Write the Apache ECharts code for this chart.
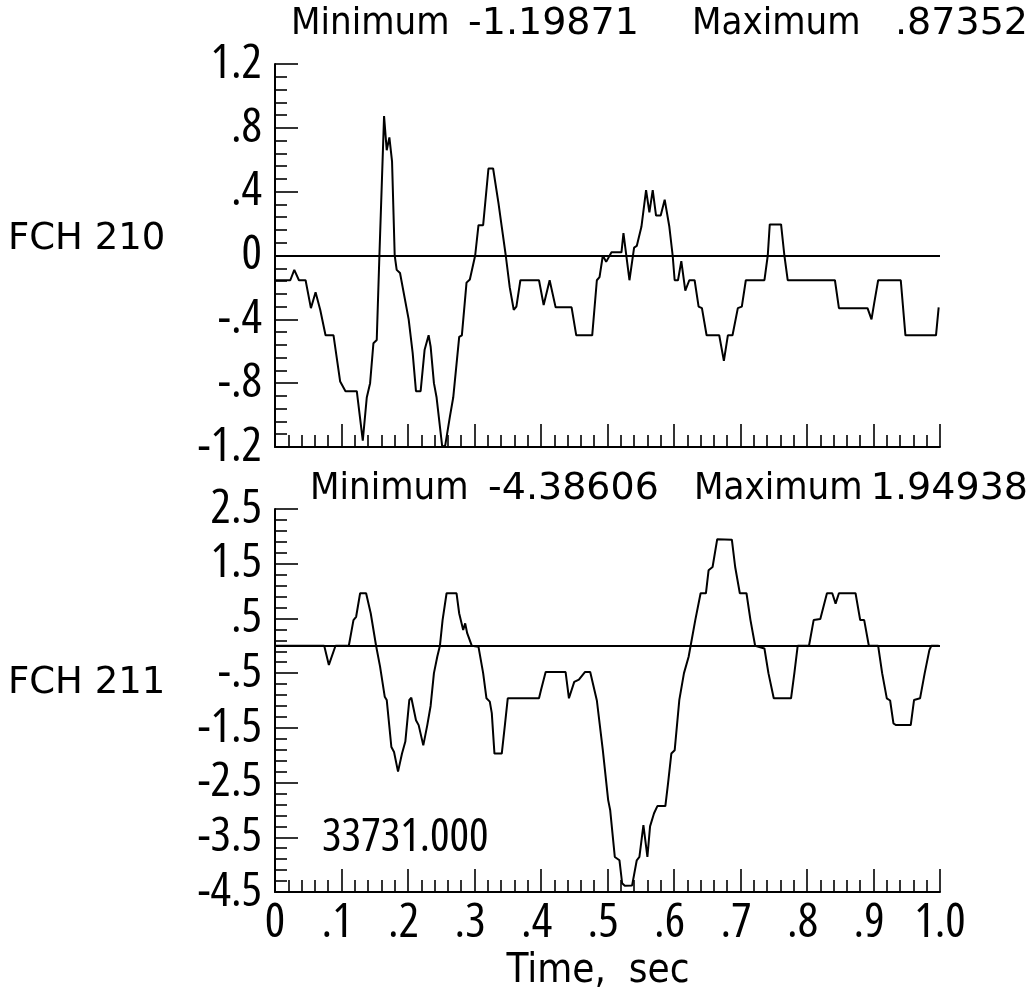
<!DOCTYPE html>
<html>
<head>
<meta charset="utf-8">
<script src="https://cdn.jsdelivr.net/npm/echarts@6/dist/echarts.min.js"></script>
<style>
html,body{margin:0;padding:0;background:#fff;}
#chart{width:1034px;height:999px;}
</style>
</head>
<body>
<div id="chart"></div>
<script>
// ---- Data ----
const xTickLabels = ['0', '.1', '.2', '.3', '.4', '.5', '.6', '.7', '.8', '.9', '1.0'];

const fch210Time = [0.000,0.023,0.029,0.036,0.046,0.054,0.061,0.068,0.076,0.088,0.098,0.106,0.123,0.132,0.138,0.143,0.148,0.153,0.157,0.164,0.168,0.172,0.176,0.180,0.183,0.188,0.201,0.207,0.212,0.219,0.225,0.231,0.234,0.239,0.243,0.2515,0.256,0.263,0.268,0.277,0.281,0.288,0.293,0.301,0.306,0.313,0.321,0.328,0.336,0.341,0.347,0.353,0.359,0.363,0.369,0.397,0.404,0.413,0.422,0.446,0.453,0.477,0.484,0.488,0.493,0.498,0.506,0.521,0.524,0.533,0.540,0.544,0.551,0.558,0.563,0.568,0.573,0.580,0.586,0.593,0.598,0.601,0.606,0.611,0.617,0.623,0.631,0.637,0.642,0.649,0.668,0.675,0.681,0.688,0.696,0.702,0.708,0.736,0.741,0.744,0.761,0.766,0.771,0.842,0.848,0.891,0.897,0.901,0.907,0.941,0.948,0.994,0.998];
const fch210Value = [-0.155,-0.155,-0.09,-0.155,-0.155,-0.33,-0.23,-0.34,-0.50,-0.50,-0.79,-0.85,-0.85,-1.16,-0.89,-0.80,-0.55,-0.53,0.00,0.87352,0.66,0.74,0.59,0.00,-0.09,-0.11,-0.40,-0.61,-0.85,-0.85,-0.59,-0.50,-0.57,-0.80,-0.89,-1.19871,-1.19,-1.01,-0.89,-0.51,-0.50,-0.17,-0.15,0.00,0.19,0.19,0.545,0.545,0.33,0.18,0.00,-0.20,-0.34,-0.32,-0.155,-0.155,-0.31,-0.155,-0.325,-0.325,-0.50,-0.50,-0.155,-0.135,0.00,-0.04,0.02,0.02,0.14,-0.155,0.05,0.06,0.18,0.41,0.27,0.41,0.25,0.25,0.35,0.18,0.00,-0.155,-0.155,-0.035,-0.22,-0.155,-0.155,-0.32,-0.33,-0.50,-0.50,-0.66,-0.50,-0.50,-0.33,-0.32,-0.155,-0.155,0.00,0.195,0.195,0.00,-0.155,-0.155,-0.33,-0.33,-0.40,-0.30,-0.155,-0.155,-0.50,-0.50,-0.325];

const fch211Time = [0.000,0.074,0.081,0.091,0.111,0.118,0.122,0.128,0.137,0.144,0.152,0.158,0.165,0.168,0.175,0.179,0.185,0.191,0.196,0.202,0.205,0.212,0.216,0.223,0.229,0.234,0.239,0.244,0.248,0.252,0.258,0.273,0.277,0.283,0.286,0.289,0.296,0.306,0.313,0.318,0.323,0.326,0.330,0.341,0.346,0.350,0.397,0.400,0.407,0.437,0.442,0.450,0.457,0.466,0.474,0.484,0.493,0.501,0.504,0.511,0.518,0.522,0.526,0.537,0.544,0.548,0.554,0.560,0.564,0.570,0.575,0.587,0.591,0.596,0.601,0.608,0.615,0.622,0.625,0.632,0.640,0.648,0.652,0.658,0.665,0.687,0.692,0.699,0.709,0.715,0.722,0.736,0.742,0.750,0.776,0.781,0.786,0.803,0.810,0.820,0.830,0.838,0.843,0.848,0.873,0.880,0.886,0.893,0.907,0.913,0.920,0.925,0.930,0.934,0.956,0.961,0.964,0.970,0.977,0.984,0.987,0.998];
const fch211Value = [0.00,0.00,-0.35,0.00,0.00,0.47,0.53,0.96,0.96,0.59,0.00,-0.38,-0.93,-0.99,-1.85,-1.94,-2.30,-1.97,-1.75,-0.99,-0.95,-1.36,-1.45,-1.82,-1.45,-1.10,-0.50,-0.20,0.00,0.47,0.96,0.96,0.59,0.29,0.41,0.23,0.00,-0.02,-0.50,-0.96,-1.02,-1.23,-1.97,-1.97,-1.42,-0.96,-0.96,-0.81,-0.48,-0.48,-0.96,-0.66,-0.62,-0.48,-0.48,-1.00,-1.91,-2.82,-3.00,-3.86,-3.92,-4.34,-4.38606,-4.38,-3.92,-3.86,-3.28,-3.86,-3.30,-3.06,-2.93,-2.93,-2.52,-1.97,-1.91,-0.99,-0.50,-0.20,0.00,0.47,0.96,0.96,1.38,1.44,1.94938,1.94,1.44,0.96,0.96,0.47,0.00,-0.05,-0.50,-0.96,-0.96,-0.50,0.00,0.00,0.47,0.49,0.96,0.96,0.77,0.96,0.96,0.47,0.47,0.00,0.00,-0.50,-0.96,-1.00,-1.42,-1.45,-1.45,-0.99,-0.96,-0.96,-0.50,-0.08,0.00,0.00];

const topTitleParts = ['Minimum', '-1.19871', 'Maximum', '.87352'];
const bottomTitleParts = ['Minimum', '-4.38606', 'Maximum', '1.94938'];
const topName = 'FCH 210';
const bottomName = 'FCH 211';
const runLabel = '33731.000';
const xName = 'Time,  sec';

// ---- helpers ----
const TXT = "'DejaVu Sans Condensed', 'DejaVu Sans', sans-serif";
const NUMFAMILY = "'Open Sans', 'Roboto Condensed', sans-serif";
function fmtNum(v) {
  const r = Math.round(v * 10) / 10;
  if (r === 0) return '0';
  let s = Math.abs(r).toFixed(1);
  if (s.startsWith('0.')) s = s.slice(1);
  return (r < 0 ? '-' : '') + s;
}
function pairs(t, v) { return t.map((x, i) => [x, v[i]]); }

const axisLine = { show: true, onZero: false, lineStyle: { color: '#000', width: 2 } };
const labelFont = { color: '#000', fontFamily: NUMFAMILY, fontStyle: 'condensed', fontSize: 48 };
function xLabel(v) {
  const s = xTickLabels[Math.round(v * 10)];
  // leading dot: pad right so the digit sits over its tick, as in the reference
  return s.charAt(0) === '.' ? s + ' ' : s;
}
function xAxisDef(gridIndex, showLabels) {
  return {
    type: 'value', gridIndex, min: 0, max: 1, interval: 0.1,
    axisLine,
    axisTick: { show: true, inside: true, length: 23, lineStyle: { color: '#000', width: 1.6 } },
    minorTick: { show: true, splitNumber: 5, length: 12, lineStyle: { color: '#000', width: 1.6 } },
    splitLine: { show: false }, minorSplitLine: { show: false },
    axisLabel: Object.assign({ show: showLabels, margin: 7, formatter: xLabel }, labelFont)
  };
}
function yAxisDef(gridIndex, min, max, interval) {
  return {
    type: 'value', gridIndex, min, max, interval,
    axisLine,
    axisTick: { show: true, inside: true, length: 23, lineStyle: { color: '#000', width: 1.6 } },
    minorTick: { show: true, splitNumber: 5, length: 12, lineStyle: { color: '#000', width: 1.6 } },
    splitLine: { show: false }, minorSplitLine: { show: false },
    axisLabel: Object.assign({ show: true, margin: 13, formatter: fmtNum }, labelFont)
  };
}
function lineSeries(idx, data) {
  return {
    type: 'line', xAxisIndex: idx, yAxisIndex: idx, data,
    showSymbol: false, symbol: 'none', smooth: false, animation: false,
    lineStyle: { color: '#000', width: 2 },
    markLine: {
      silent: true, symbol: 'none', animation: false,
      label: { show: false },
      lineStyle: { color: '#000', width: 2, type: 'solid' },
      data: [{ yAxis: 0 }]
    }
  };
}
function txt(text, x, y, font, align) {
  return { type: 'text', x, y, style: { text, font, fill: '#000', textAlign: align || 'left', textVerticalAlign: 'middle' } };
}

const WORD_FONT = "38px " + TXT;
const NUM_FONT = "38px 'DejaVu Sans', sans-serif";
const chart = echarts.init(document.getElementById('chart'), null, { renderer: 'canvas' });
chart.setOption({
  animation: false,
  backgroundColor: '#fff',
  grid: [
    { left: 275, top: 64, width: 665, height: 383 },
    { left: 275, top: 509, width: 665, height: 383 }
  ],
  xAxis: [xAxisDef(0, false), xAxisDef(1, true)],
  yAxis: [yAxisDef(0, -1.2, 1.2, 0.4), yAxisDef(1, -4.5, 2.5, 1)],
  series: [lineSeries(0, pairs(fch210Time, fch210Value)), lineSeries(1, pairs(fch211Time, fch211Value))],
  graphic: [
    txt(topTitleParts[0], 291, 24, WORD_FONT),
    txt(topTitleParts[1], 468, 24, NUM_FONT),
    txt(topTitleParts[2], 692, 24, WORD_FONT),
    txt(topTitleParts[3], 1028, 24, NUM_FONT, 'right'),
    txt(bottomTitleParts[0], 310, 489, WORD_FONT),
    txt(bottomTitleParts[1], 488, 489, NUM_FONT),
    txt(bottomTitleParts[2], 694, 489, WORD_FONT),
    txt(bottomTitleParts[3], 1028, 489, NUM_FONT, 'right'),
    txt(topName, 8, 239, "37px 'DejaVu Sans', sans-serif"),
    txt(bottomName, 8, 683, "37px 'DejaVu Sans', sans-serif"),
    txt(runLabel, 322, 838, "condensed 46px 'Open Sans', sans-serif"),
    txt(xName, 598, 972, "40px " + TXT, 'center')
  ]
});
</script>
</body>
</html>
